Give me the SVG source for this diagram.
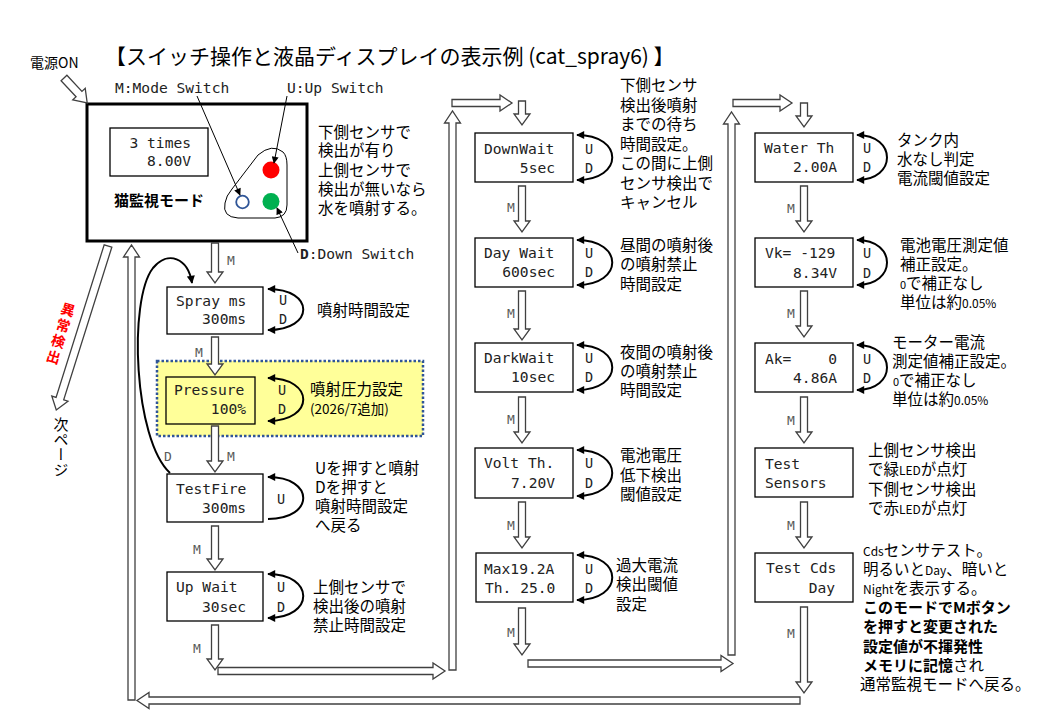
<svg xmlns="http://www.w3.org/2000/svg" width="1040" height="720" viewBox="0 0 1040 720">
<style>
.mono{font-family:"DejaVu Sans Mono","Liberation Mono",monospace;font-size:14.6px;fill:#222}
.jp{font-family:"Noto Sans CJK JP","Noto Sans",sans-serif;font-size:15.5px;fill:#000}
.m{font-family:"DejaVu Sans Mono","Liberation Mono",monospace;font-size:13px;fill:#595959}
.ud{font-family:"DejaVu Sans Mono","Liberation Mono",monospace;font-size:13.5px;fill:#222;text-anchor:middle}
.box{fill:#fff;stroke:#000;stroke-width:1.3}
.blk{fill:#fff;stroke:#404040;stroke-width:1.3}
.loop{fill:none;stroke:#000;stroke-width:2;marker-start:url(#ah);marker-end:url(#ah)}
.lead{fill:none;stroke:#000;stroke-width:1;marker-end:url(#sh)}
.sm{font-size:12px}
.b{font-weight:bold;font-size:15px}
</style>
<defs>
<marker id="ah" viewBox="0 0 10 10" refX="9" refY="5" markerWidth="9" markerHeight="8" markerUnits="userSpaceOnUse" orient="auto-start-reverse"><path d="M0,0 L10,5 L0,10 z" fill="#000"/></marker>
<marker id="sh" viewBox="0 0 10 10" refX="9" refY="5" markerWidth="8" markerHeight="7" markerUnits="userSpaceOnUse" orient="auto"><path d="M0,0 L10,5 L0,10 z" fill="#000"/></marker>
</defs>
<rect width="1040" height="720" fill="#fff"/>

<text x="105" y="64" class="jp" style="font-size:21px">【スイッチ操作と液晶ディスプレイの表示例 (cat_spray6) 】</text>
<text x="30" y="68" class="jp" style="font-size:14px">電源ON</text>
<text transform="translate(70,303) rotate(17)" style="writing-mode:vertical-rl;font-family:'Noto Sans CJK JP',sans-serif;font-size:14px;font-weight:bold;letter-spacing:2.5px" fill="#ff0000">異常検出</text>
<text x="61" y="417" style="writing-mode:vertical-rl;font-family:'Noto Sans CJK JP',sans-serif;font-size:15px">次ページ</text>

<g id="main">
  <rect x="87" y="104" width="220" height="137" fill="#fff" stroke="#000" stroke-width="3"/>
  <rect x="110" y="128" width="98" height="48" class="box"/>
  <text class="mono" x="191" y="148" text-anchor="end">3 times</text>
  <text class="mono" x="191" y="166" text-anchor="end">8.00V</text>
  <text x="114" y="206" style="font-family:'Noto Sans CJK JP',sans-serif;font-size:15px;font-weight:bold">猫監視モード</text>
  <path d="M258,155 Q272,143 283,152 Q287,156 287,165 L287,205 Q287,217 275,218 L238,218 Q222,217 225,203 Q226,196 232,189 Z" fill="#fff" stroke="#000" stroke-width="1"/>
  <circle cx="271" cy="170" r="8.5" fill="#ff0000"/>
  <circle cx="271" cy="201.5" r="8.5" fill="#00b050"/>
  <circle cx="242.5" cy="202" r="6.3" fill="#fff" stroke="#2f5597" stroke-width="1.8"/>
  <text class="mono" x="115" y="93">M:Mode Switch</text>
  <text class="mono" x="287" y="93">U:Up Switch</text>
  <text class="mono" x="300" y="259"><tspan font-weight="bold">D</tspan>:Down Switch</text>
  <text class="jp" x="318"><tspan x="318" y="138">下側センサで</tspan><tspan x="318" y="156">検出が有り</tspan><tspan x="318" y="176">上側センサで</tspan><tspan x="318" y="195">検出が無いなら</tspan><tspan x="318" y="214">水を噴射する。</tspan></text>
</g>

<g id="spray">
  <rect x="167" y="287" width="96" height="47" class="box"/>
  <text class="mono" x="176" y="306">Spray ms</text>
  <text class="mono" x="246" y="324" text-anchor="end">300ms</text>
  <text class="ud" x="283" y="305">U</text><text class="ud" x="283" y="324">D</text>
  <text class="jp" x="317" y="316">噴射時間設定</text>
</g>

<g id="pressure">
  <rect x="157" y="361" width="266" height="75" fill="#ffff99" stroke="#2f5597" stroke-width="2.5" stroke-dasharray="2.5 2"/>
  <rect x="166" y="377" width="89" height="47" fill="#ffff99" stroke="#000" stroke-width="1.3"/>
  <text class="mono" x="174" y="395">Pressure</text>
  <text class="mono" x="246" y="414" text-anchor="end">100%</text>
  <text class="ud" x="282" y="395">U</text><text class="ud" x="282" y="414">D</text>
  <text class="jp" x="310" y="395">噴射圧力設定</text>
  <text class="jp" x="310" y="414" style="font-size:13.5px">(2026/7追加)</text>
</g>

<g id="testfire">
  <rect x="167" y="474" width="96" height="48" class="box"/>
  <text class="mono" x="176" y="494">TestFire</text>
  <text class="mono" x="246" y="513" text-anchor="end">300ms</text>
  <text class="ud" x="281" y="504">U</text>
  <text class="jp"><tspan x="315" y="474">Uを押すと噴射</tspan><tspan x="315" y="493">Dを押すと</tspan><tspan x="315" y="512">噴射時間設定</tspan><tspan x="315" y="531">へ戻る</tspan></text>
</g>

<g id="upwait">
  <rect x="167" y="572" width="96" height="49" class="box"/>
  <text class="mono" x="176" y="592">Up Wait</text>
  <text class="mono" x="246" y="612" text-anchor="end">30sec</text>
  <text class="ud" x="281" y="592">U</text><text class="ud" x="281" y="612">D</text>
  <text class="jp"><tspan x="313" y="593">上側センサで</tspan><tspan x="313" y="612">検出後の噴射</tspan><tspan x="313" y="631">禁止時間設定</tspan></text>
</g>

<g id="downwait">
  <rect x="475" y="133" width="98" height="49" class="box"/>
  <text class="mono" x="484" y="154">DownWait</text>
  <text class="mono" x="555" y="173" text-anchor="end">5sec</text>
  <text class="ud" x="589" y="154">U</text><text class="ud" x="589" y="173">D</text>
  <text class="jp"><tspan x="620" y="91">下側センサ</tspan><tspan x="620" y="110.5">検出後噴射</tspan><tspan x="620" y="130">までの待ち</tspan><tspan x="620" y="149.5">時間設定。</tspan><tspan x="620" y="169">この間に上側</tspan><tspan x="620" y="188.5">センサ検出で</tspan><tspan x="620" y="208">キャンセル</tspan></text>
</g>

<g id="daywait">
  <rect x="475" y="238" width="98" height="49" class="box"/>
  <text class="mono" x="484" y="258">Day Wait</text>
  <text class="mono" x="555" y="277" text-anchor="end">600sec</text>
  <text class="ud" x="589" y="258">U</text><text class="ud" x="589" y="277">D</text>
  <text class="jp"><tspan x="620" y="251">昼間の噴射後</tspan><tspan x="620" y="270">の噴射禁止</tspan><tspan x="620" y="290">時間設定</tspan></text>
</g>

<g id="darkwait">
  <rect x="475" y="343" width="98" height="49" class="box"/>
  <text class="mono" x="484" y="363">DarkWait</text>
  <text class="mono" x="555" y="382" text-anchor="end">10sec</text>
  <text class="ud" x="589" y="363">U</text><text class="ud" x="589" y="382">D</text>
  <text class="jp"><tspan x="620" y="358">夜間の噴射後</tspan><tspan x="620" y="377">の噴射禁止</tspan><tspan x="620" y="396">時間設定</tspan></text>
</g>

<g id="volt">
  <rect x="475" y="448" width="98" height="50" class="box"/>
  <text class="mono" x="484" y="468">Volt Th.</text>
  <text class="mono" x="555" y="488" text-anchor="end">7.20V</text>
  <text class="ud" x="589" y="468">U</text><text class="ud" x="589" y="488">D</text>
  <text class="jp"><tspan x="620" y="461">電池電圧</tspan><tspan x="620" y="481">低下検出</tspan><tspan x="620" y="500">閾値設定</tspan></text>
</g>

<g id="maxcur">
  <rect x="476" y="553" width="97" height="49" class="box"/>
  <text class="mono" x="484" y="574">Max19.2A</text>
  <text class="mono" x="485" y="593">Th. 25.0</text>
  <text class="ud" x="589" y="574">U</text><text class="ud" x="589" y="593">D</text>
  <text class="jp"><tspan x="616" y="571">過大電流</tspan><tspan x="616" y="590">検出閾値</tspan><tspan x="616" y="610">設定</tspan></text>
</g>

<g id="waterth">
  <rect x="755" y="133" width="98" height="49" class="box"/>
  <text class="mono" x="764" y="153">Water Th</text>
  <text class="mono" x="837" y="172" text-anchor="end">2.00A</text>
  <text class="ud" x="867" y="153">U</text><text class="ud" x="867" y="172">D</text>
  <text class="jp"><tspan x="897" y="146">タンク内</tspan><tspan x="897" y="165">水なし判定</tspan><tspan x="897" y="184">電流閾値設定</tspan></text>
</g>

<g id="vk">
  <rect x="755" y="238" width="98" height="49" class="box"/>
  <text class="mono" x="765" y="258">Vk= -129</text>
  <text class="mono" x="837" y="278" text-anchor="end">8.34V</text>
  <text class="ud" x="867" y="258">U</text><text class="ud" x="867" y="278">D</text>
  <text class="jp"><tspan x="900" y="251">電池電圧測定値</tspan><tspan x="900" y="270">補正設定。</tspan><tspan x="900" y="289"><tspan style="font-size:11px">0</tspan>で補正なし</tspan><tspan x="900" y="308">単位は約<tspan class="sm">0.05%</tspan></tspan></text>
</g>

<g id="ak">
  <rect x="755" y="343" width="98" height="49" class="box"/>
  <text class="mono" x="765" y="364">Ak=</text>
  <text class="mono" x="837" y="364" text-anchor="end">0</text>
  <text class="mono" x="837" y="383" text-anchor="end">4.86A</text>
  <text class="ud" x="867" y="364">U</text><text class="ud" x="867" y="383">D</text>
  <text class="jp"><tspan x="892" y="348">モーター電流</tspan><tspan x="892" y="367">測定値補正設定。</tspan><tspan x="893" y="386"><tspan style="font-size:11px">0</tspan>で補正なし</tspan><tspan x="892" y="405">単位は約<tspan class="sm">0.05%</tspan></tspan></text>
</g>

<g id="testsensors">
  <rect x="755" y="448" width="98" height="49" class="box"/>
  <text class="mono" x="765" y="469">Test</text>
  <text class="mono" x="765" y="488">Sensors</text>
  <text class="jp"><tspan x="868" y="456">上側センサ検出</tspan><tspan x="868" y="475">で緑<tspan class="sm">LED</tspan>が点灯</tspan><tspan x="868" y="495">下側センサ検出</tspan><tspan x="868" y="514">で赤<tspan class="sm">LED</tspan>が点灯</tspan></text>
</g>

<g id="testcds">
  <rect x="755" y="553" width="98" height="49" class="box"/>
  <text class="mono" x="766" y="573">Test Cds</text>
  <text class="mono" x="835" y="593" text-anchor="end">Day</text>
  <text class="jp"><tspan x="863" y="556"><tspan class="sm">Cds</tspan>センサテスト。</tspan><tspan x="863" y="575">明るいと<tspan class="sm">Day</tspan>、暗いと</tspan><tspan x="863" y="594"><tspan class="sm">Night</tspan>を表示する。</tspan><tspan x="863" y="613" class="b">このモードでMボタン</tspan><tspan x="863" y="632" class="b">を押すと変更された</tspan><tspan x="863" y="652" class="b">設定値が不揮発性</tspan><tspan x="863" y="671"><tspan class="b">メモリに記憶</tspan>され</tspan><tspan x="860" y="690">通常監視モードへ戻る。</tspan></text>
</g>

<g id="connectors">
  <!-- power on arrow -->
  <polygon class="blk" transform="translate(64,78) rotate(47)" points="0,-4 22,-4 22,-8.5 34,0 22,8.5 22,4 0,4"/>
  <!-- abnormal arrow -->
  <polygon class="blk" transform="translate(108,246) rotate(107.5)" points="0,-4 160,-4 160,-8.5 172,0 160,8.5 160,4 0,4"/>
  <!-- col1 down arrows -->
  <polygon class="blk" points="211.5,243 218.5,243 218.5,272 223,272 215,283 207,272 211.5,272"/>
  <polygon class="blk" points="211.5,337 218.5,337 218.5,364 223,364 215,375 207,364 211.5,364"/>
  <polygon class="blk" points="211.5,426 218.5,426 218.5,461 223,461 215,472 207,461 211.5,461"/>
  <polygon class="blk" points="211.5,526 218.5,526 218.5,559 223,559 215,570 207,559 211.5,559"/>
  <polygon class="blk" points="211.5,625 218.5,625 218.5,659 223,659 215,670 207,659 211.5,659"/>
  <!-- col2 down arrows -->
  <polygon class="blk" points="518.5,101 525.5,101 525.5,114 530,114 522,125 514,114 518.5,114"/>
  <polygon class="blk" points="518.5,186 525.5,186 525.5,221 530,221 522,232 514,221 518.5,221"/>
  <polygon class="blk" points="518.5,291 525.5,291 525.5,329 530,329 522,340 514,329 518.5,329"/>
  <polygon class="blk" points="518.5,397 525.5,397 525.5,432 530,432 522,443 514,432 518.5,432"/>
  <polygon class="blk" points="518.5,502 525.5,502 525.5,537 530,537 522,548 514,537 518.5,537"/>
  <polygon class="blk" points="518.5,608 525.5,608 525.5,644 530,644 522,655 514,644 518.5,644"/>
  <!-- col3 down arrows -->
  <polygon class="blk" points="800.5,103 807.5,103 807.5,116 812,116 804,127 796,116 800.5,116"/>
  <polygon class="blk" points="800.5,186 807.5,186 807.5,221 812,221 804,232 796,221 800.5,221"/>
  <polygon class="blk" points="800.5,291 807.5,291 807.5,326 812,326 804,337 796,326 800.5,326"/>
  <polygon class="blk" points="800.5,397 807.5,397 807.5,432 812,432 804,443 796,432 800.5,432"/>
  <polygon class="blk" points="800.5,502 807.5,502 807.5,537 812,537 804,548 796,537 800.5,537"/>
  <polygon class="blk" points="800.5,607 807.5,607 807.5,682 812,682 804,693 796,682 800.5,682"/>
  <!-- horizontal arrows -->
  <polygon class="blk" points="218,667.5 433,667.5 433,663 445,671 433,679 433,674.5 218,674.5"/>
  <polygon class="blk" points="528,660 721,660 721,655.5 733,663.5 721,671.5 721,667 528,667"/>
  <polygon class="blk" points="452,99.5 500,99.5 500,95 512,103 500,111 500,106.5 452,106.5"/>
  <polygon class="blk" points="733,99.5 780,99.5 780,95 792,103 780,111 780,106.5 733,106.5"/>
  <polygon class="blk" points="800,697 149,697 149,692.5 137,700.5 149,708.5 149,704 800,704"/>
  <!-- vertical up arrows -->
  <polygon class="blk" points="128,700 135,700 135,257 139.5,257 131.5,245 123.5,257 128,257"/>
  <polygon class="blk" points="449,670 456,670 456,123 460.5,123 452.5,111 444.5,123 449,123"/>
  <polygon class="blk" points="728,655 735,655 735,124 739.5,124 731.5,112 723.5,124 728,124"/>
  <!-- curved D back arrow -->
  <path d="M170,473 C134,440 128,300 153,268 C168,250 188,258 192,283" fill="none" stroke="#000" stroke-width="2" marker-end="url(#ah)"/>
  <!-- switch leader lines -->
  <line class="lead" x1="197" y1="96" x2="240" y2="195"/>
  <line class="lead" x1="287" y1="96" x2="274" y2="163"/>
  <line class="lead" x1="298" y1="253" x2="277" y2="208"/>
  <!-- UD loops -->
  <path class="loop" d="M268,289 C315,289 315,330 268,330"/>
  <path class="loop" d="M268,378 C315,378 315,421 268,421"/>
  <path d="M268,477 C315,477 315,519 268,519" fill="none" stroke="#000" stroke-width="2" marker-start="url(#ah)"/>
  <path class="loop" d="M268,574 C315,574 315,618 268,618"/>
  <path class="loop" d="M577,135 C624,135 624,180 577,180"/>
  <path class="loop" d="M577,240 C624,240 624,285 577,285"/>
  <path class="loop" d="M577,345 C624,345 624,390 577,390"/>
  <path class="loop" d="M577,450 C624,450 624,496 577,496"/>
  <path class="loop" d="M577,555 C624,555 624,600 577,600"/>
  <path class="loop" d="M857,135 C897,135 897,180 857,180"/>
  <path class="loop" d="M857,240 C897,240 897,285 857,285"/>
  <path class="loop" d="M857,345 C897,345 897,390 857,390"/>
  <!-- M labels -->
  <text class="m" x="227" y="265">M</text>
  <text class="m" x="195" y="357">M</text>
  <text class="m" x="227" y="461">M</text>
  <text class="m" x="164" y="461">D</text>
  <text class="m" x="193" y="554">M</text>
  <text class="m" x="193" y="653">M</text>
  <text class="m" x="507" y="212">M</text>
  <text class="m" x="507" y="318">M</text>
  <text class="m" x="507" y="424">M</text>
  <text class="m" x="507" y="530">M</text>
  <text class="m" x="507" y="637">M</text>
  <text class="m" x="787" y="213">M</text>
  <text class="m" x="787" y="318">M</text>
  <text class="m" x="787" y="425">M</text>
  <text class="m" x="787" y="530">M</text>
  <text class="m" x="787" y="638">M</text>
</g>
</svg>
